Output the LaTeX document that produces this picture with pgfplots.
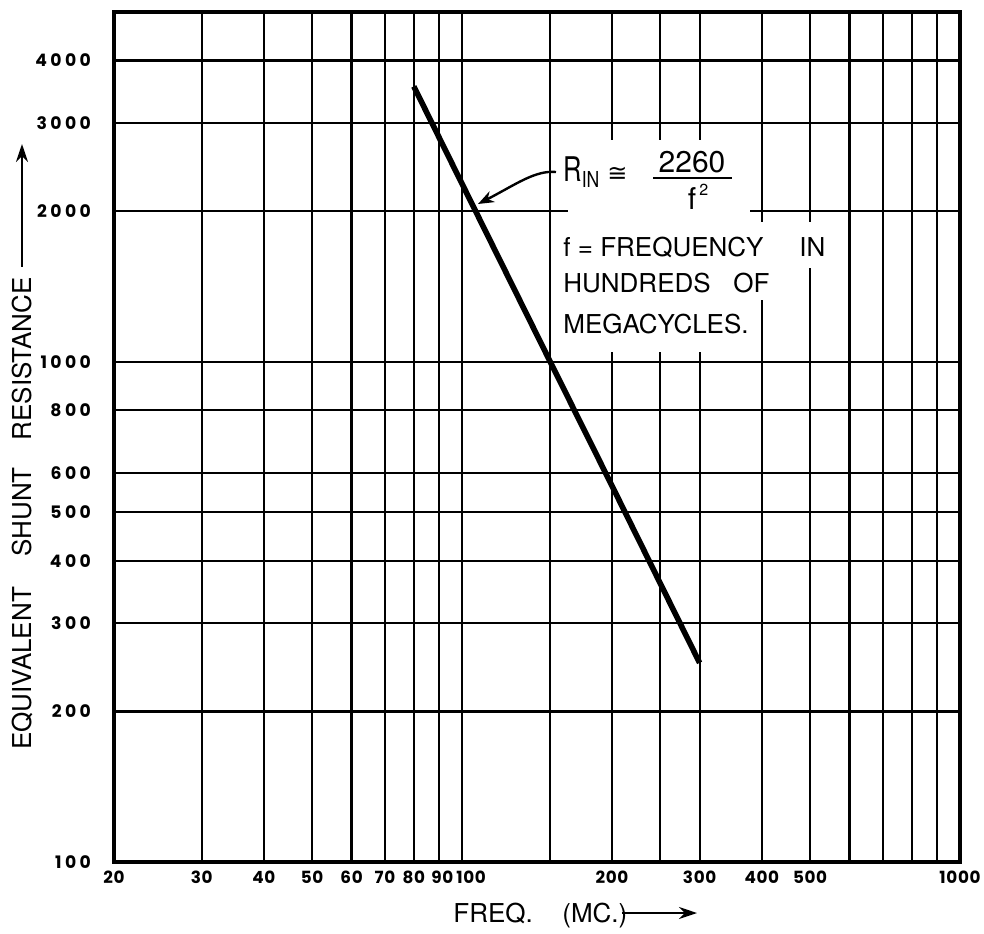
\documentclass[border=0pt]{standalone}
\usepackage{pgfplots}
\pgfplotsset{compat=1.18}
\usepackage{graphicx}
\usepackage{fontspec}
\setmainfont{TeX Gyre Heros}
\newfontfamily\dejavu{DejaVu Sans}
\newfontfamily\ytickfont[LetterSpace=20]{Poppins}
\newfontfamily\xtickfont[LetterSpace=4, Numbers=Proportional]{Poppins}
\usetikzlibrary{arrows.meta}

\begin{document}
\begin{tikzpicture}
\begin{axis}[
  xmode=log, ymode=log,
  scale only axis, width=423pt, height=425pt,
  xmin=20, xmax=1000, ymin=100, ymax=5000,
  xtick={20,30,40,50,60,70,80,90,100,200,300,400,500,1000},
  xticklabels={20,30,40,50,60,70,80,\hspace*{3pt}90,\hspace*{9pt}100,200,300,400,500,1000},
  minor xtick={150,250,600,700,800,900},
  ytick={100,200,300,400,500,600,800,1000,2000,3000,4000},
  yticklabels={100,200,300,400,500,600,800,1000,2000,3000,4000},
  minor ytick={},
  grid=both,
  major grid style={black, line width=1.1pt},
  minor grid style={black, line width=1.1pt},
  major tick length=0pt, minor tick length=0pt,
  axis line style={black, line width=2pt},
  xticklabel style={font=\xtickfont\bfseries\fontsize{8.4}{9}\selectfont, yshift=-1pt},
  yticklabel style={font=\ytickfont\bfseries\fontsize{8.6}{9}\selectfont, xshift=-8pt},
]
\addplot[black, line width=2.8pt, line cap=butt] coordinates {(80,3550) (150,1004) (200,565) (300,250)};
\end{axis}

\begin{scope}[x=0.5pt, y=-0.5pt, shift={(-57pt,431pt)}]
  % white boxes interrupting the grid behind the annotation
  \fill[white] (556,140) rectangle (752,205);
  \fill[white] (568,205) rectangle (750,220);
  \fill[white] (556,220) rectangle (752,352);
  \fill[white] (752,222) rectangle (830,268);
  \fill[white] (752,268) rectangle (775,300);
  % formula
  \node[inner sep=0, anchor=base west] at (563,182) {{\fontsize{17}{17}\selectfont\scalebox{0.75}[1]{R}}\raisebox{-3pt}{\fontsize{11}{11}\selectfont\scalebox{0.8}[1]{IN}}\hspace{4pt}{\dejavu\fontsize{12}{12}\selectfont ≅}};
  \node[inner sep=0, anchor=base, font=\fontsize{15}{15}\selectfont] at (692,173) {2260};
  \draw[line width=1.2pt] (653,178) -- (732,178);
  \node[inner sep=0, anchor=base, font=\fontsize{15}{15}\selectfont] at (692,210) {f};
  \node[inner sep=0, anchor=base west, font=\fontsize{8}{8}\selectfont] at (699,196) {2};
  \draw[line width=1.2pt, -{Stealth[length=8pt,width=6pt]}] (556,172) .. controls (535,170) and (515,185) .. (478,204);
  % explanation
  \node[inner sep=0, anchor=base west, font=\fontsize{13}{13}\selectfont] at (563,257) {f = FREQUENCY};
  \node[inner sep=0, anchor=base west, font=\fontsize{13}{13}\selectfont] at (799,257) {IN};
  \node[inner sep=0, anchor=base west, font=\fontsize{13}{13}\selectfont] at (563,293) {HUNDREDS};
  \node[inner sep=0, anchor=base west, font=\fontsize{13}{13}\selectfont] at (733,293) {OF};
  \node[inner sep=0, anchor=base west, font=\fontsize{13}{13}\selectfont] at (563,333) {MEGACYCLES.};
  % y label
  \node[inner sep=0, rotate=90, text depth=0pt, font=\fontsize{13}{13}\selectfont] at (22,668.5) {EQUIVALENT};
  \node[inner sep=0, rotate=90, text depth=0pt, font=\fontsize{13}{13}\selectfont] at (22,512) {SHUNT};
  \node[inner sep=0, rotate=90, text depth=0pt, font=\fontsize{13}{13}\selectfont] at (22,359) {RESISTANCE};
  \draw[line width=1.2pt, -{Stealth[length=9pt,width=6pt]}] (22,267) -- (22,144);
  % x label
  \node[inner sep=0, anchor=base west, font=\fontsize{13}{13}\selectfont] at (453,922) {FREQ.};
  \node[inner sep=0, anchor=base west, font=\fontsize{13}{13}\selectfont] at (562,922) {(MC.)};
  \draw[line width=1.2pt, -{Stealth[length=9pt,width=6pt]}] (622,913) -- (697,913);
  \pgfresetboundingbox
  \path (0,0) rectangle (984,933);
\end{scope}
\end{tikzpicture}
\end{document}
